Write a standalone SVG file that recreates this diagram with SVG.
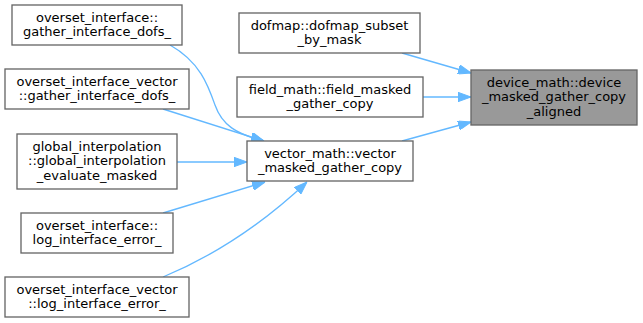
<svg xmlns="http://www.w3.org/2000/svg" width="643" height="323" viewBox="0 0 643 323">
<defs>
<style>
.node rect{fill:#ffffff;stroke:#666666;stroke-width:1.33}
.node.main rect{fill:#999999}
.node text{font-family:"DejaVu Sans",sans-serif;font-size:13px;fill:#000000;text-anchor:middle}
.edges path{fill:none;stroke:#63b8ff;stroke-width:1.33;marker-end:url(#arr)}
</style>
<marker id="arr" viewBox="0 0 13 9.4" markerUnits="userSpaceOnUse" markerWidth="13" markerHeight="9.4" refX="13" refY="4.7" orient="auto">
<path d="M0,0 L13,4.7 L0,9.4 z" fill="#63b8ff" stroke="#63b8ff" stroke-width="1"/>
</marker>
</defs>
<rect width="643" height="323" fill="#ffffff"/>
<g id="edges" class="edges">
<path d="M402,53 L471,73"/>
<path d="M423,97 L471,97"/>
<path d="M402,141 L471,122"/>
<path d="M170,45 C200,62 208,85 215,105 C222,125 236,134 264,141"/>
<path d="M163,109 L264,141"/>
<path d="M177,162 L247,162"/>
<path d="M163,213 L265,182"/>
<path d="M163,277 Q240,245 307,182"/>
</g>
<g id="n1" class="node"><rect x="12" y="5" width="170" height="40"/><text x="97" y="21.7">overset_interface::</text><text x="97" y="36.4">gather_interface_dofs_</text></g>
<g id="n2" class="node"><rect x="5" y="69" width="184" height="40"/><text x="97" y="85.7">overset_interface_vector</text><text x="97" y="100.4">::gather_interface_dofs_</text></g>
<g id="n3" class="node"><rect x="17" y="134" width="160" height="55"/><text x="97" y="150.7">global_interpolation</text><text x="97" y="165.4">::global_interpolation</text><text x="97" y="180.1">_evaluate_masked</text></g>
<g id="n4" class="node"><rect x="21" y="213" width="152" height="40"/><text x="97" y="229.7">overset_interface::</text><text x="97" y="244.4">log_interface_error_</text></g>
<g id="n5" class="node"><rect x="5" y="277" width="184" height="40"/><text x="97" y="293.7">overset_interface_vector</text><text x="97" y="308.4">::log_interface_error_</text></g>
<g id="n6" class="node"><rect x="239" y="13" width="181" height="40"/><text x="329.5" y="29.7">dofmap::dofmap_subset</text><text x="329.5" y="44.4">_by_mask</text></g>
<g id="n7" class="node"><rect x="237" y="77" width="186" height="40"/><text x="330" y="93.7">field_math::field_masked</text><text x="330" y="108.4">_gather_copy</text></g>
<g id="n8" class="node"><rect x="247" y="141" width="166" height="40"/><text x="330" y="157.7">vector_math::vector</text><text x="330" y="172.4">_masked_gather_copy</text></g>
<g id="n9" class="node main"><rect x="471" y="70" width="166" height="55"/><text x="554" y="86.7">device_math::device</text><text x="554" y="101.4">_masked_gather_copy</text><text x="554" y="116.1">_aligned</text></g>
</svg>
